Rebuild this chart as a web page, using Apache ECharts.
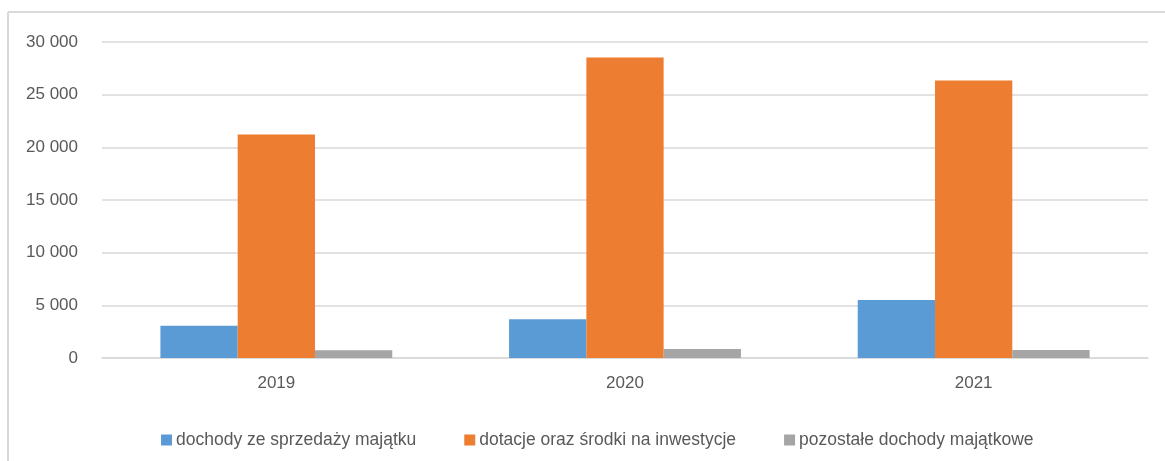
<!DOCTYPE html>
<html>
<head>
<meta charset="utf-8">
<script src="https://cdn.jsdelivr.net/npm/echarts@6/dist/echarts.min.js"></script>
<style>
  html, body { margin: 0; padding: 0; background: #fff; }
  #chart { width: 1165px; height: 461px; }
</style>
</head>
<body>
<div id="chart"></div>
<script>
var years = ['2019', '2020', '2021'];
var seriesNames = ['dochody ze sprzedaży majątku', 'dotacje oraz środki na inwestycje', 'pozostałe dochody majątkowe'];
var sprzedaz = [3070, 3670, 5500];
var dotacje = [21230, 28540, 26350];
var pozostale = [730, 860, 760];
var colors = ['#5b9bd5', '#ed7d31', '#a5a5a5'];

var fontFamily = '"Liberation Sans", Arial, sans-serif';
var textColor = '#595959';

function spaced(v) {
  return String(v).replace(/\B(?=(\d{3})+(?!\d))/g, ' ');
}

var chart = echarts.init(document.getElementById('chart'));
var allData = [sprzedaz, dotacje, pozostale];

chart.setOption({
  animation: false,
  color: colors,
  textStyle: { fontFamily: fontFamily },
  grid: { left: 102, right: 17, top: 42, bottom: 103 },
  // frame of the chart area: only top and left edges are visible
  graphic: [
    { type: 'line', shape: { x1: 8, y1: 12, x2: 1165, y2: 12 }, style: { stroke: '#d9d9d9', lineWidth: 2 } },
    { type: 'line', shape: { x1: 8, y1: 12, x2: 8, y2: 461 }, style: { stroke: '#d9d9d9', lineWidth: 2 } }
  ],
  legend: {
    data: seriesNames,
    left: 156,
    top: 426,
    icon: 'rect',
    itemWidth: 11,
    itemHeight: 11,
    itemGap: 48,
    textStyle: { color: textColor, fontSize: 17.5, fontFamily: fontFamily, padding: [0, 0, 0, -1] }
  },
  xAxis: {
    type: 'category',
    data: years,
    axisLine: { show: true, lineStyle: { color: '#d9d9d9', width: 1.5 } },
    axisTick: { show: false },
    axisLabel: { color: textColor, fontSize: 17, margin: 17 }
  },
  yAxis: {
    type: 'value',
    min: 0,
    max: 30000,
    interval: 5000,
    axisLine: { show: false },
    axisTick: { show: false },
    splitLine: { lineStyle: { color: '#d9d9d9', width: 1.5 } },
    axisLabel: { color: textColor, fontSize: 17, margin: 24, formatter: spaced }
  },
  series: seriesNames.map(function (name, i) {
    return {
      name: name,
      type: 'bar',
      data: allData[i],
      barGap: '0%',
      barCategoryGap: '33.5%'
    };
  })
});
</script>
</body>
</html>
